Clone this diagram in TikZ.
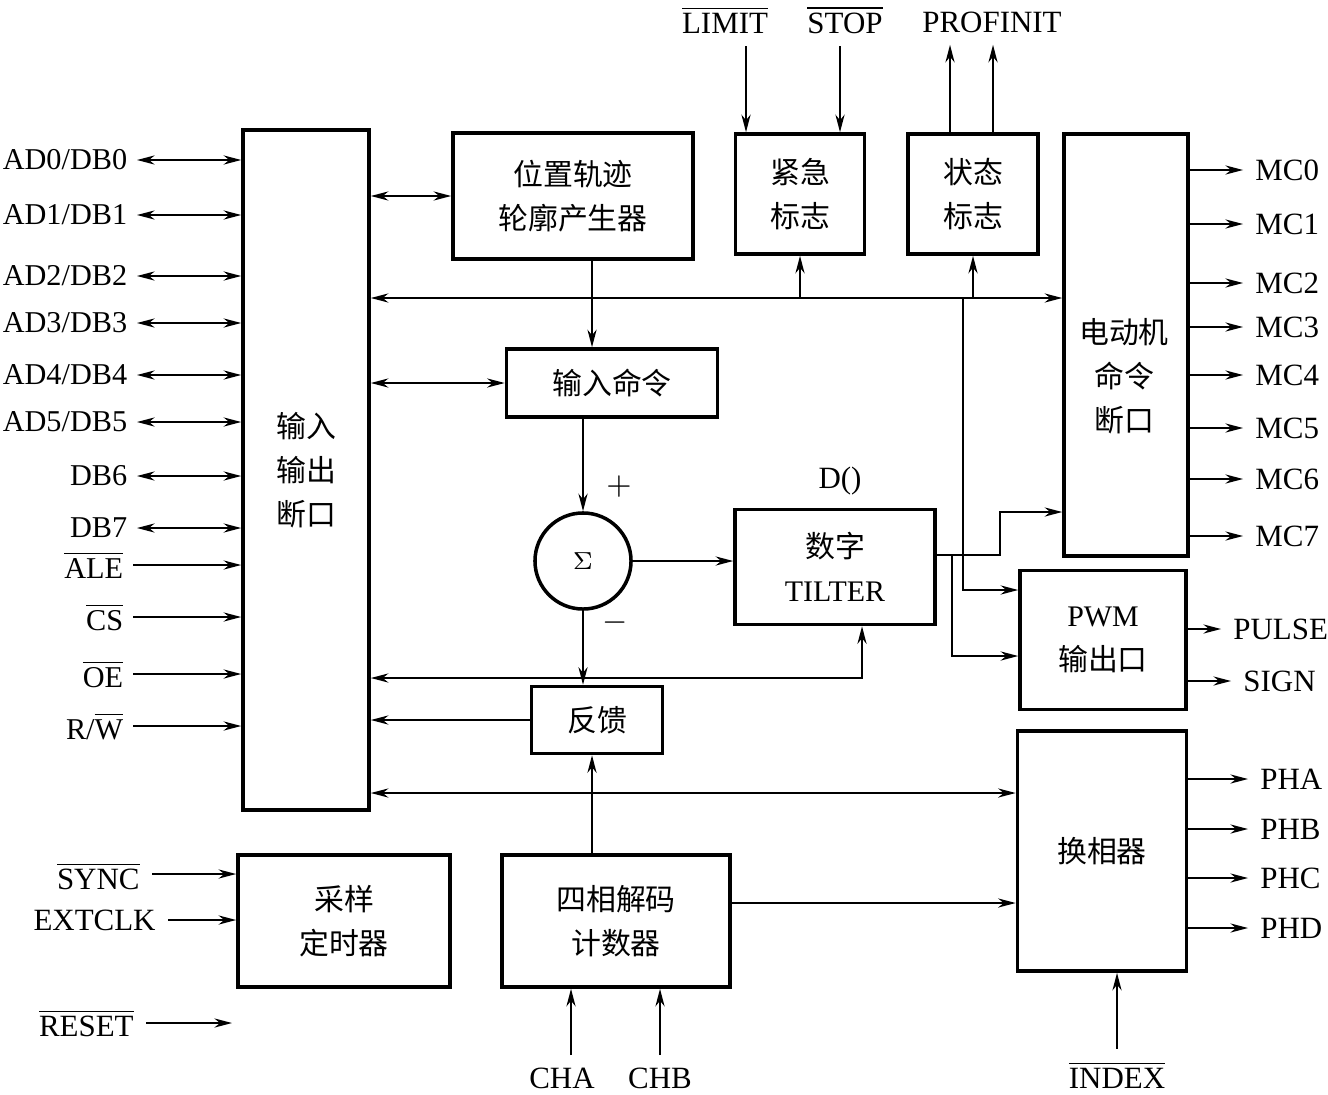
\documentclass[tikz,border=0pt]{standalone}
\usepackage{fontspec}
\setmainfont{Liberation Serif}
\newfontfamily\cjk{Noto Sans CJK SC}
\usetikzlibrary{arrows.meta, positioning, calc}

\begin{document}
\begin{tikzpicture}[
    x=0.01cm, y=-0.01cm,
    font=\fontsize{8.8}{12.5}\selectfont,
    >={Stealth[length=5pt, width=2.6pt, inset=1.6pt]},
    box/.style={draw, line width=1pt, align=center, inner sep=0pt, font=\cjk\fontsize{8.5}{12.5}\selectfont},
    txt/.style={align=center, font=\cjk\fontsize{8.5}{12.5}\selectfont},
    pin/.style={anchor=east, inner xsep=2.6pt, font=\fontsize{8.6}{12}\selectfont},
    wire/.style={line width=0.5pt}
]
\useasboundingbox (0,0) rectangle (1328,1094);

    % Blocks
    \node[box, minimum width=1.26cm, minimum height=6.80cm] (io) at (306,470) {输入\\输出\\断口};
    \node[box, minimum width=2.40cm, minimum height=1.26cm] (traj) at (573,196) {位置轨迹\\轮廓产生器};
    \node[box, minimum width=1.29cm, minimum height=1.20cm] (emg) at (800,194) {紧急\\标志};
    \node[box, minimum width=1.30cm, minimum height=1.20cm] (stat) at (973,194) {状态\\标志};
    \node[box, minimum width=1.24cm, minimum height=4.22cm] (motor) at (1126,345) {};
    \node[txt] (motortxt) at (1124,376) {电动机\\命令\\断口};
    \node[box, minimum width=2.11cm, minimum height=0.68cm] (cmd) at (612,383) {输入命令};
    \node[draw, circle, line width=1pt, minimum size=0.96cm, inner sep=0pt] (sum) at (583,561) {\fontsize{7}{8}\selectfont$\Sigma$};
    \node[box, minimum width=2.00cm, minimum height=1.15cm] (filt) at (835,567) {数字\\{\rmfamily TILTER}};
    \node (dlab) at (840,481) {D()};
    \node (plus) at (619,487) {$+$};
    \node (minus) at (615,623) {$-$};
    \node[box, minimum width=1.66cm, minimum height=1.39cm] (pwm) at (1103,640) {{\rmfamily PWM}\\输出口};
    \node[box, minimum width=1.31cm, minimum height=0.67cm] (fb) at (597,720) {反馈};
    \node[box, minimum width=1.69cm, minimum height=2.40cm] (comm) at (1102,851) {换相器};
    \node[box, minimum width=2.28cm, minimum height=1.32cm] (dec) at (616,921) {四相解码\\计数器};
    \node[box, minimum width=2.12cm, minimum height=1.32cm] (samp) at (344,921) {采样\\定时器};

    % Left side signals
    \foreach \nm/\txt/\yy in {ad0/{AD0/DB0}/160, ad1/{AD1/DB1}/215, ad2/{AD2/DB2}/276, ad3/{AD3/DB3}/323, ad4/{AD4/DB4}/375, ad5/{AD5/DB5}/422, db6/DB6/476, db7/DB7/528} {
        \node[pin] (\nm) at (137,\yy) {\txt};
        \draw[wire, <->] (\nm.east) -- (io.west |- \nm.east);
    }
    \foreach \nm/\txt/\yy in {ale/{$\overline{\mbox{ALE}}$}/565, cs/{$\overline{\mbox{CS}}$}/617, oe/{$\overline{\mbox{OE}}$}/674, rw/{R/$\overline{\mbox{W}}$}/726} {
        \node[pin] (\nm) at (133,\yy) {\txt};
        \draw[wire, ->] (\nm.east) -- (io.west |- \nm.east);
    }

    % Top signals
    \node (limit) at (725,20) {$\overline{\mbox{LIMIT}}$};
    \node (stop) at (845,20) {$\overline{\mbox{STOP}}$};
    \node (prof) at (992,22) {PROFINIT};
    \draw[wire, ->] (limit.south -| 746,0) -- (emg.north -| 746,0);
    \draw[wire, ->] (stop.south -| 840,0) -- (emg.north -| 840,0);
    \draw[wire, ->] (stat.north -| 950,0) -- (prof.south -| 950,0);
    \draw[wire, ->] (stat.north -| 993,0) -- (prof.south -| 993,0);

    % Motor command outputs
    \foreach \i/\yy in {0/170, 1/224, 2/283, 3/327, 4/375, 5/428, 6/479, 7/536} {
        \node[anchor=west] (mc\i) at (1243,\yy) {MC\i};
        \draw[wire, ->] (motor.east |- mc\i.west) -- (mc\i.west);
    }

    % Internal bus
    \draw[wire, <->] (io.east |- 0,298) -- (motor.west |- 0,298);
    \draw[wire, ->] (emg.south |- 0,298) -- (emg.south);
    \draw[wire, ->] (stat.south |- 0,298) -- (stat.south);
    \draw[wire, <->] (traj.west -| io.east) -- (traj.west);
    \draw[wire, <->] (cmd.west -| io.east) -- (cmd.west);
    \draw[wire, ->] (traj.south -| 592,0) -- (cmd.north -| 592,0);
    \draw[wire, ->] (963,298) -- (963,590) -- (pwm.west |- 0,590);

    % Control loop
    \draw[wire, ->] (sum.north |- cmd.south) -- (sum.north);
    \draw[wire, ->] (sum.east) -- (filt.west |- sum.east);
    \draw[wire, ->] (filt.east |- 0,555) -- (1000,555) -- (1000,512) -- (motor.west |- 0,512);
    \draw[wire, ->] (952,555) -- (952,656) -- (pwm.west |- 0,656);
    \draw[wire, ->] (sum.south) -- (sum.south |- fb.north);
    \draw[wire, <->] (io.east |- 0,678) -- (862,678) -- (filt.south -| 862,0);
    \draw[wire, ->] (fb.west) -- (fb.west -| io.east);

    % PWM outputs
    \node[anchor=west] (pulse) at (1221,629) {PULSE};
    \node[anchor=west] (sign) at (1231,681) {SIGN};
    \draw[wire, ->] (pwm.east |- pulse.west) -- (pulse.west);
    \draw[wire, ->] (pwm.east |- sign.west) -- (sign.west);

    % Lower bus and decoder
    \draw[wire, <->] (io.east |- 0,793) -- (comm.west |- 0,793);
    \draw[wire, ->] (dec.north -| 592,0) -- (fb.south -| 592,0);
    \draw[wire, ->] (dec.east |- 0,903) -- (comm.west |- 0,903);
    \node (cha) at (562,1078) {CHA};
    \node (chb) at (660,1078) {CHB};
    \draw[wire, ->] (cha.north -| 571,0) -- (dec.south -| 571,0);
    \draw[wire, ->] (chb.north -| 660,0) -- (dec.south -| 660,0);

    % Commutator outputs
    \foreach \p/\yy in {A/779, B/829, C/878, D/928} {
        \node[anchor=west] (ph\p) at (1248,\yy) {PH\p};
        \draw[wire, ->] (comm.east |- ph\p.west) -- (ph\p.west);
    }
    \node (index) at (1117,1075) {$\overline{\mbox{INDEX}}$};
    \draw[wire, ->] (index.north) -- (comm.south -| index.north);

    % Timer inputs
    \node[anchor=east] (sync) at (152,876) {$\overline{\mbox{SYNC}}$};
    \node[anchor=east] (extclk) at (168,920) {EXTCLK};
    \node[anchor=east] (reset) at (146,1023) {$\overline{\mbox{RESET}}$};
    \coordinate (rstend) at (232,1023);
    \draw[wire, ->] (sync.east |- 0,874) -- (samp.west |- 0,874);
    \draw[wire, ->] (extclk.east) -- (samp.west |- extclk.east);
    \draw[wire, ->] (reset.east |- rstend) -- (rstend);

\end{tikzpicture}
\end{document}
